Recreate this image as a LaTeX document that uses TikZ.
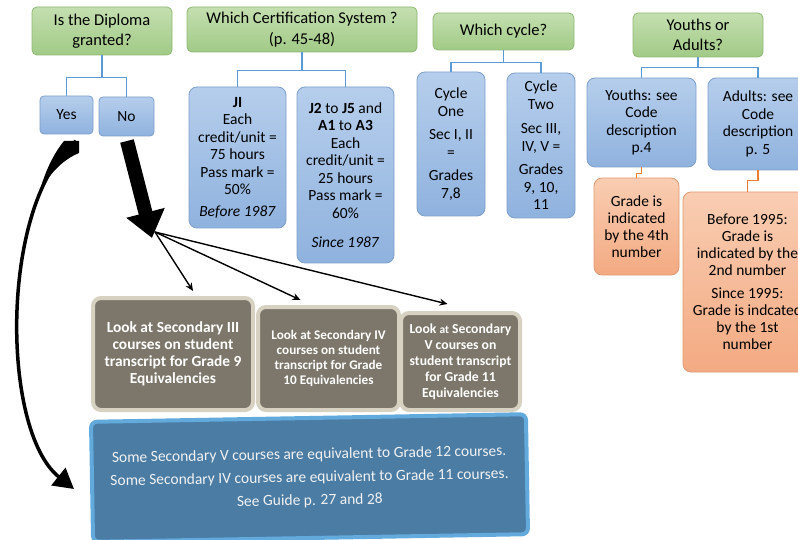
\documentclass[tikz,border=0pt]{standalone}
\usepackage{fontspec}
\setmainfont{Carlito}
\usetikzlibrary{arrows.meta}

\definecolor{qtop}{HTML}{C4DFB0}
\definecolor{qbot}{HTML}{A1CA86}
\definecolor{qedge}{HTML}{8DB872}
\definecolor{atop}{HTML}{B6CEEC}
\definecolor{abot}{HTML}{8FB2DE}
\definecolor{aedge}{HTML}{7C9FCB}
\definecolor{ntop}{HTML}{F9CDB2}
\definecolor{nbot}{HTML}{F3AA82}
\definecolor{nedge}{HTML}{DE9A74}
\definecolor{gbody}{HTML}{7C776A}
\definecolor{gedge}{HTML}{D6D1C0}
\definecolor{bbody}{HTML}{4A7CA4}
\definecolor{bedge}{HTML}{62AADC}
\definecolor{lblue}{HTML}{5B9BD5}
\definecolor{lorange}{HTML}{ED7D31}

\begin{document}
\begin{tikzpicture}[x=1pt,y=-1pt,
    question/.style={draw=qedge, line width=0.8pt, rounded corners=5pt, top color=qtop, bottom color=qbot,
        align=center, inner sep=1pt, font=\fontsize{16.5}{20.5}\selectfont},
    answer/.style={draw=aedge, line width=0.8pt, rounded corners=8pt, top color=atop, bottom color=abot,
        align=center, inner sep=1pt, font=\fontsize{15.5}{17.5}\selectfont},
    note/.style={draw=nedge, line width=0.8pt, rounded corners=8pt, top color=ntop, bottom color=nbot,
        align=center, inner sep=1pt, font=\fontsize{15.5}{17}\selectfont},
    lookbox/.style={draw=gedge, line width=4pt, rounded corners=8pt, fill=gbody, text=white,
        align=center, inner sep=1pt},
    guidebox/.style={draw=bedge, line width=4pt, rounded corners=6pt, fill=bbody, text=white!95!black,
        align=center, font=\fontsize{15.5}{23}\selectfont},
    link/.style={draw=lblue, line width=1.2pt},
    olink/.style={draw=lorange, line width=1.2pt},
    pointer/.style={draw, line width=1.4pt, -{Stealth[length=8pt,width=7pt]}},
    fatarrow/.style={draw, line width=14pt, -{Triangle[length=26pt,width=38pt]}},
    curvyarrow/.style={draw, line width=3.5pt, -{Triangle[length=20pt,width=22pt]}}]

    \useasboundingbox (0,0) rectangle (798,540);

    % questions
    \node[question, minimum width=140pt, minimum height=48pt] (diploma) at (102,31) {Is the Diploma\\granted?};
    \node[question, minimum width=230pt, minimum height=45pt] (system) at (302,29.5) {Which Certification System ?\\(p. 45-48)};
    \node[question, minimum width=141pt, minimum height=37pt] (cycle) at (503.5,31.5) {Which cycle?};
    \node[question, minimum width=130pt, minimum height=44pt] (youthadult) at (698,35) {Youths or\\Adults?};

    % answers
    \node[answer, rounded corners=4pt, minimum width=53pt, minimum height=38pt] (yes) at (66.5,115) {Yes};
    \node[answer, rounded corners=4pt, minimum width=55pt, minimum height=39pt] (no) at (126.5,116.5) {No};
    \node[answer, minimum width=97pt, minimum height=141pt] (jone) at (237.5,157.5)
        {\textbf{JI}\\Each\\credit/unit =\\75 hours\\Pass mark =\\50\%\\[4pt]\textit{Before 1987}};
    \node[answer, minimum width=97pt, minimum height=176pt] (jtwo) at (345.5,175)
        {\textbf{J2} to \textbf{J5} and\\\textbf{A1} to \textbf{A3}\\Each\\credit/unit =\\25 hours\\Pass mark =\\60\%\\[12pt]\textit{Since 1987}};
    \node[answer, minimum width=68pt, minimum height=144pt] (cycleone) at (451,144)
        {Cycle\\One\\[6pt]Sec I, II\\=\\[6pt]Grades\\7,8};
    \node[answer, minimum width=68pt, minimum height=145pt] (cycletwo) at (541,145.5)
        {Cycle\\Two\\[7pt]Sec III,\\IV, V =\\[6pt]Grades\\9, 10,\\11};
    \node[answer, minimum width=109pt, minimum height=89pt] (youths) at (641.5,122.5)
        {Youths: see\\Code\\description\\p.4};
    \node[answer, minimum width=100pt, minimum height=92pt] (adults) at (758,124)
        {Adults: see\\Code\\description\\p. 5};

    % grade notes
    \node[note, minimum width=85pt, minimum height=97pt] (youthnote) at (636.5,226.5)
        {Grade is\\indicated\\by the 4th\\number};
    \node[note, minimum width=129pt, minimum height=180pt] (adultnote) at (747.5,282)
        {Before 1995:\\Grade is\\indicated by the\\2nd number\\[6pt]Since 1995:\\Grade is indcated\\by the 1st\\number};

    % secondary boxes
    \node[lookbox, minimum width=160pt, minimum height=112pt, font=\bfseries\fontsize{15.4}{17}\selectfont] (secthree) at (173,354)
        {Look at Secondary III\\courses on student\\transcript for Grade 9\\Equivalencies};
    \node[lookbox, minimum width=141pt, minimum height=103pt, font=\bfseries\fontsize{13.2}{15}\selectfont] (secfour) at (328.5,358.5)
        {Look at Secondary IV\\courses on student\\transcript for Grade\\10 Equivalencies};
    \node[lookbox, minimum width=119pt, minimum height=97pt, font=\bfseries\fontsize{13.7}{16}\selectfont] (secfive) at (460.5,361.5)
        {Look {\fontsize{11.5}{16}\selectfont at} Secondary\\V courses on\\student transcript\\for Grade 11\\Equivalencies};
    \node[guidebox, minimum width=435pt, minimum height=120pt, rotate=1] (guide) at (309.5,478)
        {Some Secondary V courses are equivalent to Grade 12 courses.\\Some Secondary IV courses are equivalent to Grade 11 courses.\\See Guide p. 27 and 28};

    % tree links
    \draw[link] (diploma.south) -- ++(0,22) coordinate (dj) -| (yes.north);
    \draw[link] (dj) -| (no.north);
    \draw[link] (system.south) -- ++(0,18) coordinate (sj) -| (jone.north);
    \draw[link] (sj) -| (jtwo.north);
    \draw[link] (cycle.south) -- ++(0,12) coordinate (cj) -| (cycleone.north);
    \draw[link] (cj) -| (cycletwo.north);
    \draw[link] (youthadult.south) -- ++(0,10) coordinate (yj) -| (youths.north);
    \draw[link] (yj) -| (adults.north);
    \draw[olink] (youths.south) -- ++(0,6) -| (youthnote.north);
    \draw[olink] (adults.south) -- ++(0,10) -| (adultnote.north);

    % arrows
    \coordinate (hub) at (155,232);
    \coordinate (noTail) at (127,141);
    \coordinate (noTip) at (152,238);
    \coordinate (yesTail) at (76,141);
    \coordinate (yesTip) at (74,489);
    \draw[pointer] (hub) -- ([xshift=20pt,yshift=5pt]secthree.north);
    \draw[pointer] (hub) -- ([xshift=-28pt,yshift=5pt]secfour.north);
    \draw[pointer] (hub) -- ([xshift=-13pt,yshift=7pt]secfive.north);
    \draw[fatarrow] (noTail) -- (noTip);
    \draw[curvyarrow] (yesTail) .. controls (0,200) and (0,430) .. (yesTip);
    \fill (64,141) -- (79,141) -- (79,153) .. controls (62,160) and (48,175) .. (39,194)
        .. controls (45,170) and (55,152) .. cycle;
\end{tikzpicture}
\end{document}
